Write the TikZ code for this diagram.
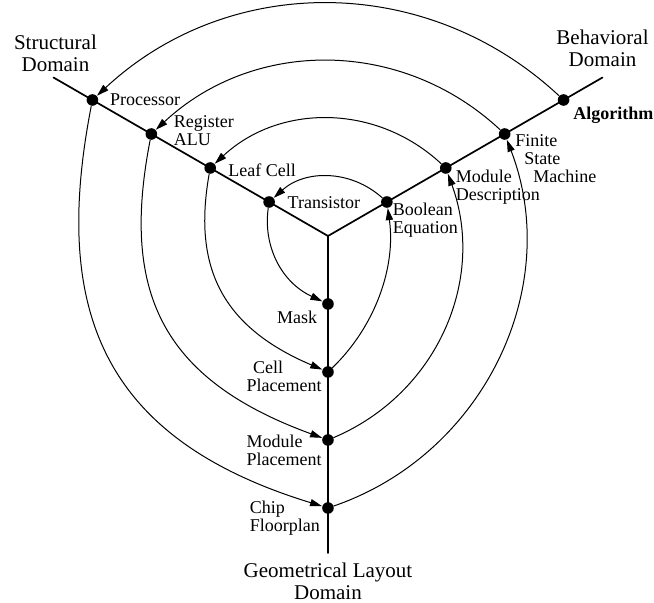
\documentclass[tikz,border=0pt]{standalone}
\usepackage{fontspec}
\setmainfont{Liberation Serif}
\usetikzlibrary{arrows.meta,positioning}

\begin{document}
\begin{tikzpicture}[line cap=round, line join=round,
	dot/.style={circle, fill=black, inner sep=0pt, minimum size=5.8pt},
	lbl/.style={inner sep=0pt, font=\fontsize{9}{9}\selectfont, align=left},
	dom/.style={inner sep=0pt, font=\fontsize{10.5}{11}\selectfont, align=center},
	domline/.style={line width=0.85pt},
	spiral/.style={line width=0.5pt, -{Triangle[length=6pt,width=3.6pt]}}]
	\useasboundingbox (-164pt,-183.5pt) rectangle (163pt,118pt);

	% Y-chart axes
	\coordinate (o) at (0,0);
	\coordinate (s_end) at (150:158.5pt);
	\coordinate (b_end) at (30:158.5pt);
	\coordinate (g_end) at (270:158.5pt);
	\draw[domline] (o) -- (s_end);
	\draw[domline] (o) -- (b_end);
	\draw[domline] (o) -- (g_end);

	% domain names
	\node[dom, above=2.8pt of s_end, xshift=1pt] (s_name) {Structural\\Domain};
	\node[dom, above=5pt of b_end] (b_name) {Behavioral\\Domain};
	\node[dom, below=5pt of g_end] (g_name) {Geometrical Layout\\Domain};

	% structural domain
	\node[dot] (trans) at (150:34pt) {};
	\node[dot] (leaf) at (150:68pt) {};
	\node[dot] (reg_alu) at (150:102pt) {};
	\node[dot] (proc) at (150:136pt) {};

	% behavioral domain
	\node[dot] (bool_eq) at (30:34pt) {};
	\node[dot] (mod_desc) at (30:68pt) {};
	\node[dot] (fsm) at (30:102pt) {};
	\node[dot] (algo) at (30:136pt) {};

	% geometrical layout domain
	\node[dot] (mask) at (270:34pt) {};
	\node[dot] (cell_pl) at (270:68pt) {};
	\node[dot] (mod_pl) at (270:102pt) {};
	\node[dot] (chip_fp) at (270:136pt) {};

	% labels
	\node[lbl, right=6pt of trans, yshift=-0.5pt] (trans_lbl) {Transistor};
	\node[lbl, right=5.8pt of leaf, yshift=-1.2pt] (leaf_lbl) {Leaf Cell};
	\node[lbl, right=8pt of reg_alu, yshift=1.5pt] (reg_lbl) {Register\\ALU};
	\node[lbl, right=5.5pt of proc] (proc_lbl) {Processor};
	\node[lbl, anchor=north west, xshift=2.85pt, yshift=-0.5pt] (bool_lbl) at (bool_eq) {Boolean\\Equation};
	\node[lbl, anchor=north west, xshift=4.85pt, yshift=-0.85pt] (desc_lbl) at (mod_desc) {Module\\Description};
	\node[lbl, anchor=north west, xshift=5.15pt, yshift=-0.15pt] (fsm_lbl) at (fsm) {Finite\\\hspace*{4.5pt}State\\\hspace*{9pt}Machine};
	\node[lbl, anchor=north west, xshift=4.7pt, yshift=-3.35pt, font=\fontsize{9}{9}\selectfont\bfseries] (algo_lbl) at (algo) {Algorithm};
	\node[lbl, anchor=north east, xshift=-5.2pt, yshift=-3.15pt] (mask_lbl) at (mask) {Mask};
	\node[lbl, anchor=north east, xshift=-3pt, yshift=5.85pt] (cell_lbl) at (cell_pl) {\hspace*{3.3pt}Cell\\Placement};
	\node[lbl, anchor=north east, xshift=-3pt, yshift=2.85pt] (mpl_lbl) at (mod_pl) {Module\\Placement};
	\node[lbl, anchor=north east, xshift=-3.85pt, yshift=3.85pt] (chip_lbl) at (chip_fp) {Chip\\Floorplan};

	% design flow spiral, outside in
	\draw[spiral] (algo) to[bend right=43] (proc);
	\draw[spiral] (proc) .. controls +(-101:105pt) and +(163:120pt) .. (chip_fp);
	\draw[spiral] (chip_fp) to[out=19, in=-69] (fsm);
	\draw[spiral] (fsm) to[bend right=43] (reg_alu);
	\draw[spiral] (reg_alu) .. controls +(-101:79pt) and +(160:90pt) .. (mod_pl);
	\draw[spiral] (mod_pl) to[out=23, in=-70] (mod_desc);
	\draw[spiral] (mod_desc) to[bend right=43] (leaf);
	\draw[spiral] (leaf) .. controls +(-100:48pt) and +(157:60pt) .. (cell_pl);
	\draw[spiral] (cell_pl) to[out=44, in=-82, looseness=0.9] (bool_eq);
	\draw[spiral] (bool_eq) to[bend right=42] (trans);
	\draw[spiral] (trans) .. controls +(-98:22pt) and +(155:26pt) .. (mask);
\end{tikzpicture}
\end{document}
